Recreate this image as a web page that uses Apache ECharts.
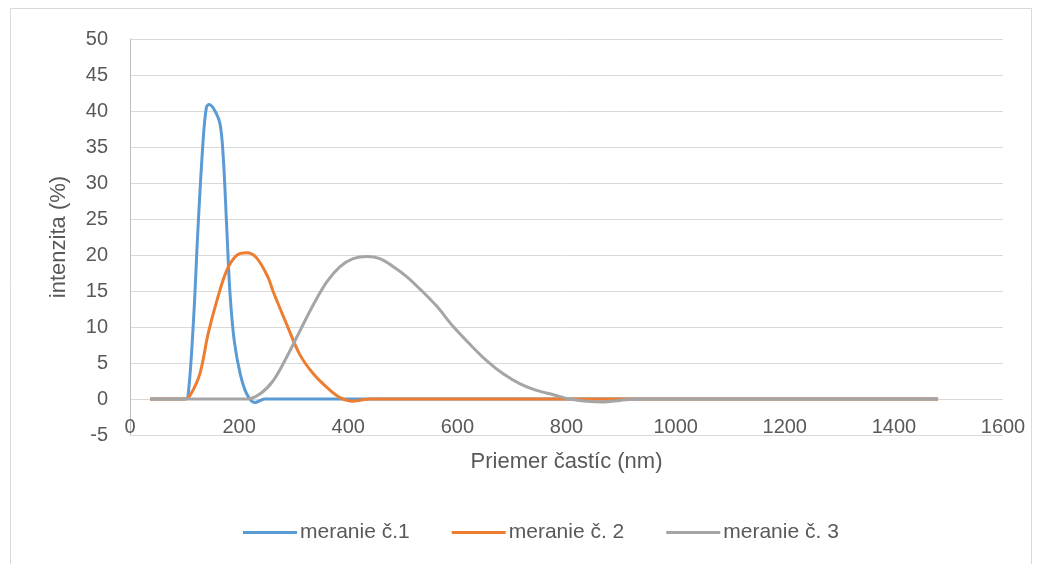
<!DOCTYPE html>
<html>
<head>
<meta charset="utf-8">
<script src="https://cdn.jsdelivr.net/npm/echarts@6/dist/echarts.min.js"></script>
<style>
  html, body { margin: 0; padding: 0; background: #fff; }
  #chart { width: 1040px; height: 564px; }
</style>
</head>
<body>
<div id="chart"></div>
<script>
// meranie č.1
var size1 = [37, 60, 80, 100, 106, 116, 125, 134, 140, 145, 155, 165, 171, 177, 183, 191, 202, 214, 229, 247, 300, 500, 800, 1100, 1481];
var int1  = [0, 0, 0, 0, 0.2, 10.4, 24.3, 35.9, 40.5, 40.9, 40.1, 38.2, 33.5, 24.3, 15, 8.1, 3.5, 0.7, -0.5, 0, 0, 0, 0, 0, 0];

// meranie č. 2
var size2 = [37, 70, 100, 110, 128, 143, 159, 177, 195, 214, 232, 253, 262, 287, 311, 336, 361, 385, 409, 440, 600, 900, 1200, 1481];
var int2  = [0, 0, 0, 0.5, 3.5, 9, 13.6, 17.8, 19.9, 20.3, 19.6, 16.9, 15, 10.4, 6.2, 3.5, 1.6, 0.2, -0.3, 0, 0, 0, 0, 0];

// meranie č. 3
var size3 = [37, 100, 150, 200, 214, 238, 262, 287, 311, 336, 361, 385, 409, 434, 458, 482, 507, 531, 562, 592, 623, 654, 684, 715, 745, 776, 806, 837, 867, 898, 930, 1000, 1200, 1481];
var int3  = [0, 0, 0, 0, 0, 0.7, 2.5, 5.8, 9.4, 13.1, 16.3, 18.4, 19.5, 19.8, 19.5, 18.4, 17, 15.3, 12.9, 10.1, 7.6, 5.3, 3.5, 2.1, 1.2, 0.6, 0, -0.3, -0.4, -0.2, 0, 0, 0, 0];

var seriesNames = ["meranie č.1", "meranie č. 2", "meranie č. 3"];
var colors = ["#5B9BD5", "#ED7D31", "#A5A5A5"];

function pairs(xs, ys) {
  var out = [];
  for (var i = 0; i < xs.length; i++) out.push([xs[i], ys[i]]);
  return out;
}

var font = "'Liberation Sans', 'DejaVu Sans', sans-serif";
var txtColor = "#595959";

var chart = echarts.init(document.getElementById("chart"));

chart.setOption({
  animation: false,
  color: colors,
  textStyle: { fontFamily: font },
  graphic: [{
    type: "rect",
    shape: { x: 10.5, y: 8.5, width: 1021, height: 560 },
    style: { fill: "none", stroke: "#d9d9d9", lineWidth: 1 },
    silent: true
  }],
  grid: { left: 130, right: 37, top: 39, bottom: 129 },
  legend: {
    bottom: 16,
    left: 238,
    icon: "rect",
    itemWidth: 54,
    itemHeight: 3,
    itemGap: 42,
    textStyle: { color: txtColor, fontSize: 21, fontFamily: font, padding: [0, 0, 0, -2] },
    data: seriesNames
  },
  xAxis: {
    type: "value",
    min: 0,
    max: 1600,
    interval: 200,
    name: "Priemer častíc (nm)",
    nameLocation: "middle",
    nameGap: 16,
    nameTextStyle: { color: txtColor, fontSize: 22, fontFamily: font },
    axisLine: { show: true, onZero: false, lineStyle: { color: "#d9d9d9", width: 1 } },
    axisTick: { show: false },
    axisLabel: {
      color: txtColor, fontSize: 20, margin: -18, fontFamily: font,
      formatter: function (v) { return String(v); }
    },
    splitLine: { show: false }
  },
  yAxis: {
    type: "value",
    min: -5,
    max: 50,
    interval: 5,
    name: "intenzita (%)",
    nameLocation: "middle",
    nameGap: 60,
    nameRotate: 90,
    nameTextStyle: { color: txtColor, fontSize: 22, fontFamily: font },
    axisLine: { show: true, lineStyle: { color: "#bfbfbf", width: 1 } },
    axisTick: { show: false },
    axisLabel: { color: txtColor, fontSize: 20, margin: 22, fontFamily: font },
    splitLine: { show: true, lineStyle: { color: "#d9d9d9", width: 1 } }
  },
  series: [
    { name: seriesNames[0], type: "line", smooth: 0.35, symbol: "none", lineStyle: { width: 3 }, data: pairs(size1, int1) },
    { name: seriesNames[1], type: "line", smooth: 0.35, symbol: "none", lineStyle: { width: 3 }, data: pairs(size2, int2) },
    { name: seriesNames[2], type: "line", smooth: 0.35, symbol: "none", lineStyle: { width: 3 }, data: pairs(size3, int3) }
  ]
});
</script>
</body>
</html>
